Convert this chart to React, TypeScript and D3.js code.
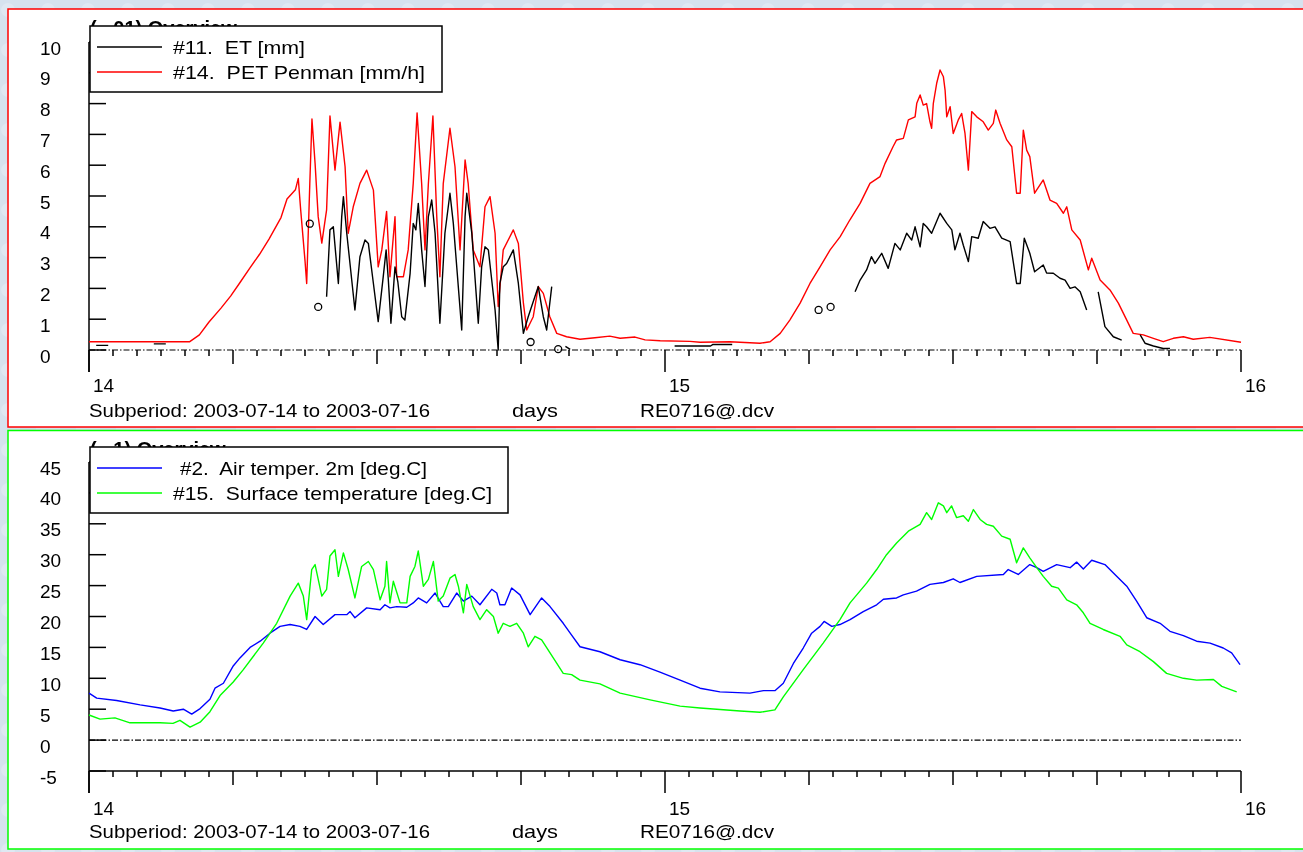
import React from "react";
import * as d3 from "d3";

// ---------- data (time in hours since 2003-07-14 00:00) ----------
const DAY_LABELS = ["14", "15", "16"];
const HOUR_TICKS = d3.range(0, 49);
const TOP_Y_TICKS = d3.range(0, 11);
const BOTTOM_Y_TICKS = d3.range(-5, 50, 5);

const PET: [number, number][] = [
  [0, 0.27], [4.2, 0.27], [4.6, 0.49], [5.0, 0.91], [5.5, 1.36], [5.9, 1.75], [6.3, 2.2], [6.7, 2.66],
  [7.1, 3.1], [7.5, 3.6], [8.0, 4.3], [8.25, 4.9], [8.6, 5.2], [8.72, 5.57], [8.82, 4.55], [9.0, 2.9],
  [9.07, 2.16], [9.2, 5.4], [9.29, 7.5], [9.42, 6.06], [9.55, 4.33], [9.7, 3.47], [9.9, 4.55], [10.04, 7.6],
  [10.25, 5.84], [10.46, 7.4], [10.67, 5.95], [10.8, 3.79], [11.01, 4.65], [11.29, 5.41], [11.57, 5.84],
  [11.85, 5.19], [12.05, 2.7], [12.2, 3.25], [12.4, 4.5], [12.54, 2.38], [12.75, 4.33], [12.82, 2.38],
  [13.1, 2.38], [13.3, 3.25], [13.51, 5.41], [13.67, 7.7], [13.86, 5.41], [14.0, 3.25], [14.14, 5.4],
  [14.33, 7.6], [14.49, 4.33], [14.62, 2.38], [14.76, 5.4], [15.04, 7.2], [15.25, 5.95], [15.46, 3.25],
  [15.67, 6.17], [15.8, 5.4], [16.01, 3.25], [16.29, 2.7], [16.5, 4.65], [16.71, 4.98], [16.92, 3.79],
  [17.05, 1.41], [17.26, 3.25], [17.68, 3.9], [17.89, 3.46], [18.1, 1.52], [18.24, 0.65], [18.51, 1.08],
  [18.72, 2.06], [18.93, 1.84], [19.2, 1.08], [19.49, 0.54], [19.9, 0.43], [20.46, 0.35], [21.08, 0.4],
  [21.7, 0.45], [22.13, 0.38], [22.75, 0.42], [23.17, 0.33], [23.8, 0.3], [25.04, 0.28], [25.46, 0.25],
  [26.7, 0.27], [27.96, 0.22], [28.38, 0.27], [28.8, 0.54], [29.2, 0.97], [29.63, 1.52], [30.04, 2.16],
  [30.46, 2.7], [30.88, 3.25], [31.3, 3.68], [31.7, 4.22], [32.13, 4.76], [32.54, 5.41], [32.96, 5.63],
  [33.17, 6.06], [33.5, 6.6], [33.65, 6.82], [33.93, 6.87], [34.14, 7.47], [34.42, 7.57], [34.49, 8.01],
  [34.63, 8.28], [34.76, 7.95], [34.9, 8.0], [35.04, 7.41], [35.11, 7.2], [35.18, 8.01], [35.32, 8.66],
  [35.46, 9.09], [35.6, 8.87], [35.67, 8.44], [35.74, 7.57], [35.88, 7.9], [36.01, 7.03], [36.22, 7.47],
  [36.36, 7.68], [36.5, 7.03], [36.64, 5.84], [36.78, 7.74], [36.99, 7.57], [37.26, 7.41], [37.47, 7.14],
  [37.68, 7.36], [37.78, 7.79], [37.96, 7.36], [38.24, 6.82], [38.45, 6.6], [38.65, 5.09], [38.8, 5.09],
  [38.93, 7.14], [39.07, 6.49], [39.2, 6.28], [39.4, 5.09], [39.76, 5.52], [40.04, 4.87], [40.32, 4.76],
  [40.6, 4.44], [40.74, 4.65], [40.95, 3.9], [41.3, 3.57], [41.64, 2.6], [41.78, 2.98], [42.13, 2.27],
  [42.54, 1.95], [42.89, 1.52], [43.24, 0.97], [43.51, 0.54], [43.93, 0.49], [44.35, 0.38], [44.76, 0.27],
  [45.18, 0.38], [45.6, 0.43], [46.01, 0.35], [46.7, 0.41], [48.0, 0.25],
];

// null values break the line
const ET: [number, number | null][] = [
  [0.3, 0.15], [0.8, 0.15], [0.81, null],
  [2.7, 0.2], [3.2, 0.2], [3.21, null],
  [9.9, 1.73], [10.04, 3.9], [10.18, 4.0], [10.39, 2.16], [10.53, 4.33], [10.6, 4.98], [10.74, 3.79],
  [11.08, 1.3], [11.29, 3.03], [11.5, 3.57], [11.64, 3.46], [11.85, 2.16], [12.05, 0.92], [12.26, 2.38],
  [12.38, 3.25], [12.47, 2.3], [12.58, 0.87], [12.75, 2.7], [12.87, 2.2], [13.03, 1.08], [13.16, 0.97],
  [13.38, 2.49], [13.51, 4.11], [13.62, 3.9], [13.72, 4.76], [13.86, 3.25], [14.0, 2.06], [14.14, 4.33],
  [14.28, 4.87], [14.42, 3.79], [14.62, 0.87], [14.83, 3.79], [15.04, 5.09], [15.18, 4.11], [15.53, 0.65],
  [15.67, 4.33], [15.74, 5.09], [15.95, 3.79], [16.22, 0.87], [16.36, 2.7], [16.5, 3.35], [16.64, 3.25],
  [16.92, 1.3], [17.05, 0.0], [17.12, 2.16], [17.26, 2.7], [17.4, 2.81], [17.68, 3.25], [17.89, 2.16],
  [18.1, 0.54], [18.3, 1.08], [18.72, 2.06], [18.93, 1.08], [19.07, 0.65], [19.28, 2.06], [19.29, null],
  [19.85, 0.12], [20.05, 0.02], [20.06, null],
  [24.4, 0.13], [25.9, 0.13], [26.0, 0.18], [26.8, 0.18], [26.81, null],
  [31.92, 1.89], [32.13, 2.27], [32.4, 2.6], [32.6, 3.03], [32.75, 2.81], [33.03, 3.14], [33.3, 2.65],
  [33.58, 3.46], [33.8, 3.25], [34.07, 3.79], [34.28, 3.57], [34.42, 4.0], [34.63, 3.35], [34.76, 4.11],
  [34.9, 4.0], [35.11, 3.79], [35.46, 4.44], [35.74, 4.11], [35.95, 3.9], [36.08, 3.25], [36.29, 3.79],
  [36.43, 3.4], [36.64, 2.87], [36.78, 3.68], [37.05, 3.63], [37.26, 4.17], [37.54, 3.95], [37.75, 4.0],
  [38.03, 3.63], [38.38, 3.52], [38.65, 2.16], [38.8, 2.16], [38.97, 3.63], [39.2, 3.14], [39.4, 2.54],
  [39.76, 2.76], [39.9, 2.5], [40.18, 2.49], [40.46, 2.33], [40.67, 2.27], [40.88, 2.0], [41.08, 2.05],
  [41.3, 1.89], [41.57, 1.3], [41.58, null],
  [42.05, 1.89], [42.33, 0.76], [42.68, 0.43], [43.03, 0.32], [43.04, null],
  [43.8, 0.49], [44.0, 0.22], [44.35, 0.13], [44.76, 0.05], [45.04, 0.05],
];

const ET_ISOLATED: [number, number][] = [
  [9.2, 4.1], [9.55, 1.4], [18.4, 0.26], [19.55, 0.03], [30.4, 1.3], [30.9, 1.4],
];

const AIR: [number, number][] = [
  [0, 7.6], [0.32, 6.8], [1.15, 6.4], [2.13, 5.7], [2.96, 5.2], [3.51, 4.7], [3.93, 5.0], [4.28, 4.2],
  [4.63, 5.1], [5.04, 6.6], [5.25, 8.4], [5.6, 9.2], [6.01, 12.0], [6.29, 13.3], [6.71, 15.0], [7.13, 16.0],
  [7.54, 17.3], [7.96, 18.4], [8.38, 18.7], [8.79, 18.4], [9.07, 17.9], [9.42, 20.0], [9.76, 18.7],
  [10.25, 20.3], [10.74, 20.3], [10.88, 20.8], [11.08, 19.8], [11.57, 21.4], [12.13, 21.1], [12.33, 21.9],
  [12.54, 21.4], [12.82, 21.6], [13.24, 21.5], [13.51, 22.2], [13.72, 23.0], [14.07, 22.2], [14.42, 23.8],
  [14.76, 21.6], [14.97, 21.6], [15.32, 23.8], [15.6, 22.5], [15.95, 23.3], [16.29, 21.9], [16.78, 24.4],
  [16.99, 23.8], [17.12, 21.9], [17.33, 21.9], [17.61, 24.6], [17.96, 23.5], [18.38, 20.3], [18.86, 23.0],
  [19.21, 21.6], [19.76, 18.9], [20.11, 17.0], [20.46, 15.1], [21.29, 14.3], [22.13, 13.0], [22.96, 12.2],
  [23.79, 11.0], [24.63, 9.7], [25.46, 8.4], [26.29, 7.8], [27.54, 7.6], [28.1, 8.0], [28.58, 8.0],
  [28.93, 9.2], [29.35, 12.4], [29.76, 14.9], [30.11, 17.3], [30.46, 18.4], [30.63, 19.2], [30.95, 18.4],
  [31.29, 18.7], [31.71, 19.5], [32.26, 20.8], [32.82, 21.9], [33.1, 22.8], [33.65, 23.0], [33.93, 23.5],
  [34.48, 24.1], [35.04, 25.2], [35.6, 25.5], [36.01, 26.1], [36.29, 25.5], [36.99, 26.5], [38.1, 26.8],
  [38.3, 27.6], [38.72, 26.8], [39.2, 28.4], [39.49, 27.9], [39.76, 27.3], [40.32, 28.4], [40.88, 27.9],
  [41.15, 28.8], [41.43, 27.7], [41.78, 29.1], [42.33, 28.4], [42.82, 26.5], [43.24, 24.9], [43.65, 22.5],
  [44.07, 19.8], [44.63, 18.9], [45.04, 17.6], [45.6, 16.9], [46.15, 16.0], [46.71, 15.7], [47.26, 14.9],
  [47.61, 14.1], [47.96, 12.2],
];

const SURFACE: [number, number][] = [
  [0, 4.06], [0.46, 3.4], [1.08, 3.6], [1.71, 2.8], [2.96, 2.8], [3.5, 2.7], [3.79, 3.2], [4.21, 2.1],
  [4.63, 2.9], [5.04, 4.6], [5.46, 7.2], [6.01, 9.4], [6.43, 11.4], [7.26, 15.7], [7.82, 18.9], [8.38, 23.3],
  [8.72, 25.4], [8.93, 23.3], [9.07, 19.5], [9.28, 27.6], [9.42, 28.4], [9.7, 23.3], [9.9, 24.4],
  [10.04, 29.8], [10.25, 30.8], [10.39, 26.5], [10.6, 30.3], [10.8, 27.6], [11.08, 23.0], [11.36, 28.1],
  [11.64, 28.9], [11.85, 27.6], [12.13, 22.7], [12.33, 24.9], [12.4, 28.9], [12.54, 22.2], [12.68, 25.7],
  [12.96, 22.2], [13.24, 22.2], [13.38, 26.5], [13.58, 28.1], [13.72, 30.6], [13.93, 24.9], [14.14, 26.0],
  [14.35, 28.9], [14.55, 22.5], [14.76, 23.3], [15.04, 26.2], [15.25, 26.8], [15.39, 24.9], [15.6, 20.6],
  [15.74, 25.2], [16.01, 21.6], [16.29, 19.5], [16.57, 21.1], [16.85, 20.0], [17.05, 17.3], [17.26, 18.9],
  [17.54, 18.4], [17.82, 18.9], [18.1, 17.3], [18.3, 15.1], [18.58, 16.8], [18.86, 16.2], [19.21, 14.1],
  [19.76, 10.8], [20.11, 10.6], [20.46, 9.7], [21.29, 9.1], [22.13, 7.6], [23.38, 6.5], [24.63, 5.5],
  [25.46, 5.2], [27.13, 4.7], [27.96, 4.5], [28.58, 4.9], [28.93, 7.0], [29.76, 11.4], [30.59, 15.7],
  [31.29, 19.5], [31.71, 22.2], [32.4, 25.4], [32.82, 27.6], [33.23, 30.0], [33.65, 31.9], [34.14, 33.8],
  [34.63, 34.9], [34.9, 36.8], [35.11, 35.7], [35.39, 38.4], [35.6, 37.9], [35.74, 36.8], [35.94, 37.9],
  [36.15, 36.0], [36.43, 36.3], [36.64, 35.4], [36.85, 37.3], [37.13, 35.7], [37.4, 34.9], [37.68, 34.6],
  [38.03, 33.0], [38.38, 32.5], [38.65, 28.7], [38.93, 31.1], [39.2, 29.5], [39.49, 27.9], [39.76, 26.5],
  [40.11, 24.9], [40.39, 24.6], [40.74, 22.7], [41.15, 21.9], [41.43, 20.6], [41.71, 18.9], [42.26, 17.9],
  [42.96, 16.8], [43.24, 15.4], [43.79, 14.3], [44.35, 12.7], [44.9, 10.8], [45.6, 10.0], [46.15, 9.7],
  [46.85, 9.8], [47.2, 8.7], [47.82, 7.8],
];

const TOP_LEGEND = ["#11.  ET [mm]", "#14.  PET Penman [mm/h]"];
const BOTTOM_LEGEND = ["#2.  Air temper. 2m [deg.C]", "#15.  Surface temperature [deg.C]"];
const FOOTER = ["Subperiod: 2003-07-14 to 2003-07-16", "days", "RE0716@.dcv"];

// ---------- layout ----------
const FONT = "'Liberation Sans', Arial, sans-serif";
const x = d3.scaleLinear().domain([0, 48]).range([89, 1241]);
const yTop = d3.scaleLinear().domain([0, 10]).range([350, 42]);
const yBot = d3.scaleLinear().domain([-5, 45]).range([771, 462]);

function tickLen(h: number) {
  return h % 24 === 0 ? 22 : h % 6 === 0 ? 14 : 6;
}

type PanelProps = {
  y: d3.ScaleLinear<number, number>;
  yTicks: number[];
  axisBase: number;
  solidAxis: boolean;
  zeroY: number;
  dayLabelY: number;
  footerY: number;
  title: string;
  legend: { label: string; color: string; tx: number; w: number }[];
  legendBox: { x: number; y: number; w: number; h: number };
  children?: React.ReactNode;
};

const pre: React.CSSProperties = { whiteSpace: "pre" };

function Panel(p: PanelProps) {
  const top = p.y(p.yTicks[p.yTicks.length - 1]);
  return (
    <g>
      {/* title mostly hidden behind the legend */}
      <text x={90} y={p.legendBox.y + 9} fontFamily={FONT} fontSize={20} fontWeight="bold" fill="#000" style={pre}>
        {p.title}
      </text>
      <line x1={x(0)} x2={x(48)} y1={p.zeroY} y2={p.zeroY} stroke="#000" strokeWidth={1.2} strokeDasharray="6,2,1.5,2" />
      {p.solidAxis && <line x1={x(0)} x2={x(48)} y1={p.axisBase} y2={p.axisBase} stroke="#000" strokeWidth={1.5} />}
      {HOUR_TICKS.map((h) => (
        <line key={h} x1={x(h)} x2={x(h)} y1={p.axisBase} y2={p.axisBase + tickLen(h)} stroke="#000" strokeWidth={1.5} />
      ))}
      <line x1={89} x2={89} y1={top} y2={p.axisBase + 22} stroke="#000" strokeWidth={1.5} />
      {p.yTicks.map((t) => (
        <g key={t}>
          <line x1={89} x2={106} y1={p.y(t)} y2={p.y(t)} stroke="#000" strokeWidth={1.5} />
          <text x={40} y={p.y(t) + 12.5} fontFamily={FONT} fontSize={19} fill="#000">{t}</text>
        </g>
      ))}
      {DAY_LABELS.map((d, i) => (
        <text key={d} x={x(i * 24) + 4} y={p.dayLabelY} fontFamily={FONT} fontSize={19} fill="#000">{d}</text>
      ))}
      <text x={89} y={p.footerY} fontFamily={FONT} fontSize={19} textLength={341} lengthAdjust="spacingAndGlyphs">{FOOTER[0]}</text>
      <text x={512} y={p.footerY} fontFamily={FONT} fontSize={19} textLength={46} lengthAdjust="spacingAndGlyphs">{FOOTER[1]}</text>
      <text x={640} y={p.footerY} fontFamily={FONT} fontSize={19} textLength={134} lengthAdjust="spacingAndGlyphs">{FOOTER[2]}</text>
      {p.children}
      <rect x={p.legendBox.x} y={p.legendBox.y} width={p.legendBox.w} height={p.legendBox.h} fill="#fff" stroke="#000" strokeWidth={1.5} />
      {p.legend.map((l, i) => {
        const cy = p.legendBox.y + 21 + i * 25;
        return (
          <g key={l.label}>
            <line x1={97} x2={162} y1={cy} y2={cy} stroke={l.color} strokeWidth={1.5} />
            <text x={l.tx} y={cy + 7} fontFamily={FONT} fontSize={19} fill="#000" style={pre}
              textLength={l.w} lengthAdjust="spacingAndGlyphs">{l.label}</text>
          </g>
        );
      })}
    </g>
  );
}

export default function App() {
  const petLine = d3.line<[number, number]>().x((d) => x(d[0])).y((d) => yTop(d[1]));
  const etLine = d3
    .line<[number, number | null]>()
    .defined((d) => d[1] !== null)
    .x((d) => x(d[0]))
    .y((d) => yTop(d[1] as number));
  const botLine = d3.line<[number, number]>().x((d) => x(d[0])).y((d) => yBot(d[1]));

  return (
    <div style={{ position: "fixed", left: 0, top: 0, width: 1303, height: 852, overflow: "hidden" }}>
      <svg width={1303} height={852} style={{ display: "block" }}>
        <defs>
          <pattern id="bgtex" width="40" height="40" patternUnits="userSpaceOnUse">
            <rect width="40" height="40" fill="#d6e2ee" />
            <circle cx="8" cy="10" r="7" fill="#dfe8f2" />
            <circle cx="28" cy="28" r="8" fill="#cfdcea" />
          </pattern>
        </defs>
        <rect x={0} y={0} width={1303} height={852} fill="url(#bgtex)" />
        <rect x={8} y={9} width={1310} height={418} fill="#fff" stroke="#ff0000" strokeWidth={1.5} />
        <rect x={8} y={430.5} width={1310} height={418.5} fill="#fff" stroke="#00ff00" strokeWidth={1.5} />

        <Panel
          y={yTop}
          yTicks={TOP_Y_TICKS}
          axisBase={350}
          solidAxis={false}
          zeroY={350}
          dayLabelY={392}
          footerY={417}
          title="(  .01) Overview"
          legendBox={{ x: 90, y: 26, w: 352, h: 66 }}
          legend={[
            { label: TOP_LEGEND[0], color: "#000", tx: 173, w: 132 },
            { label: TOP_LEGEND[1], color: "#ff0000", tx: 173, w: 252 },
          ]}
        >
          <path d={petLine(PET) ?? ""} fill="none" stroke="#ff0000" strokeWidth={1.4} strokeLinejoin="round" />
          <path d={etLine(ET) ?? ""} fill="none" stroke="#000" strokeWidth={1.4} strokeLinejoin="round" />
          {ET_ISOLATED.map((d, i) => (
            <circle key={i} cx={x(d[0])} cy={yTop(d[1])} r={3.5} fill="none" stroke="#000" strokeWidth={1.3} />
          ))}
        </Panel>

        <Panel
          y={yBot}
          yTicks={BOTTOM_Y_TICKS}
          axisBase={771}
          solidAxis={true}
          zeroY={yBot(0)}
          dayLabelY={815}
          footerY={838}
          title="(  .1) Overview"
          legendBox={{ x: 90, y: 447, w: 418, h: 66 }}
          legend={[
            { label: BOTTOM_LEGEND[0], color: "#0000ff", tx: 180, w: 247 },
            { label: BOTTOM_LEGEND[1], color: "#00ff00", tx: 173, w: 319 },
          ]}
        >
          <path d={botLine(AIR) ?? ""} fill="none" stroke="#0000ff" strokeWidth={1.4} strokeLinejoin="round" />
          <path d={botLine(SURFACE) ?? ""} fill="none" stroke="#00ff00" strokeWidth={1.4} strokeLinejoin="round" />
        </Panel>
      </svg>
    </div>
  );
}
